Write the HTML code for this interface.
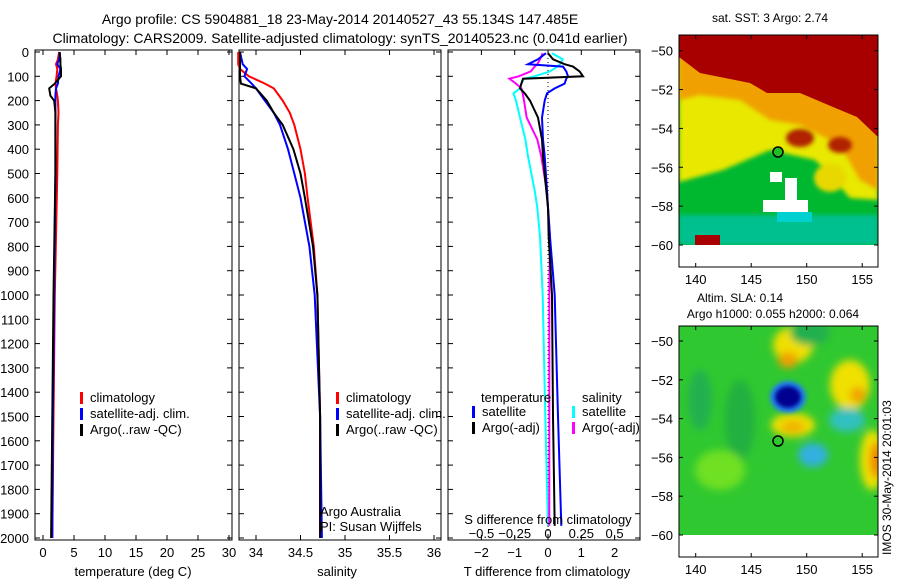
<!DOCTYPE html>
<html><head><meta charset="utf-8">
<style>
body{margin:0;background:#fff;}
svg{display:block;font-family:"Liberation Sans",sans-serif;}
text{font-size:13px;fill:#000;}
</style></head>
<body>
<svg id="fig" width="900" height="580" viewBox="0 0 900 580">
<defs>
<filter id="bl" x="-20%" y="-20%" width="140%" height="140%"><feGaussianBlur stdDeviation="4"/></filter>
<filter id="bl2" x="-20%" y="-20%" width="140%" height="140%"><feGaussianBlur stdDeviation="2"/></filter>
<clipPath id="c1"><rect x="679" y="35" width="199" height="210"/></clipPath>
<clipPath id="c2"><rect x="679" y="326" width="199" height="209"/></clipPath>
</defs>
<text x="340" y="24" text-anchor="middle" style="font-size:14px">Argo profile: CS 5904881_18 23-May-2014 20140527_43 55.134S 147.485E</text>
<text x="340" y="43" text-anchor="middle" style="font-size:14px">Climatology: CARS2009. Satellite-adjusted climatology: synTS_20140523.nc (0.041d earlier)</text>

<g>
<text x="770" y="22" text-anchor="middle" style="font-size:12px">sat. SST: 3 Argo: 2.74</text>
<g clip-path="url(#c1)">
<rect x="679" y="35" width="199" height="210" fill="#00b830"/>
<rect x="679" y="215" width="199" height="30" fill="#00c090" filter="url(#bl2)"/>
<polygon points="679,35 878,35 878,200 850,198 830,175 815,160 770,150 723,170 679,182" fill="#e8e800" filter="url(#bl2)"/>
<polygon points="679,35 878,35 878,190 860,180 840,145 800,125 770,120 740,100 700,95 679,100" fill="#f0a000" filter="url(#bl2)"/>
<polygon points="679,35 878,35 878,137 857,117 833,107 800,93 767,93 750,83 700,73 679,57" fill="#a80000"/>
<ellipse cx="800" cy="138" rx="14" ry="9" fill="#b02000" filter="url(#bl2)"/>
<ellipse cx="840" cy="145" rx="12" ry="8" fill="#b02000" filter="url(#bl2)"/>
<ellipse cx="830" cy="178" rx="16" ry="14" fill="#e8d800" filter="url(#bl2)"/>
<rect x="770" y="172" width="12" height="10" fill="#fff"/>
<rect x="785" y="178" width="12" height="22" fill="#fff"/>
<rect x="763" y="200" width="45" height="12" fill="#fff"/>
<rect x="777" y="212" width="35" height="10" fill="#00d0d0"/>
<rect x="695" y="235" width="25" height="10" fill="#a80000"/>
</g>
<rect x="679" y="35" width="199" height="232" fill="none" stroke="#000"/>
<circle cx="778" cy="152" r="5" fill="#20c020" stroke="#000" stroke-width="1.5"/>
<g id="map1ax"></g>
</g>

<g>
<text x="740" y="302" text-anchor="middle" style="font-size:12px">Altim. SLA: 0.14</text>
<text x="773" y="318" text-anchor="middle" style="font-size:12px">Argo h1000: 0.055 h2000: 0.064</text>
<g clip-path="url(#c2)">
<rect x="679" y="326" width="199" height="209" fill="#30c830"/>
<g filter="url(#bl)">
<ellipse cx="700" cy="400" rx="12" ry="30" fill="#20b050"/>
<ellipse cx="740" cy="420" rx="15" ry="40" fill="#20b040"/>
<ellipse cx="720" cy="470" rx="25" ry="20" fill="#70e020"/>
<ellipse cx="793" cy="345" rx="20" ry="18" fill="#f0e000"/>
<ellipse cx="788" cy="360" rx="10" ry="8" fill="#f0a000"/>
<ellipse cx="793" cy="425" rx="22" ry="12" fill="#f0e000"/>
<ellipse cx="793" cy="427" rx="12" ry="6" fill="#f0b000"/>
<ellipse cx="850" cy="385" rx="20" ry="25" fill="#f0e000"/>
<ellipse cx="858" cy="395" rx="8" ry="8" fill="#f0a000"/>
<ellipse cx="872" cy="460" rx="12" ry="30" fill="#f0e000"/>
<ellipse cx="876" cy="460" rx="6" ry="18" fill="#f08000"/>
<ellipse cx="847" cy="420" rx="18" ry="12" fill="#30c0c0"/>
<ellipse cx="813" cy="455" rx="15" ry="12" fill="#30b0e0"/>
<ellipse cx="810" cy="333" rx="20" ry="12" fill="#20b050"/>
</g>
<ellipse cx="788" cy="397" rx="18" ry="16" fill="#2080f0" filter="url(#bl2)"/>
<ellipse cx="788" cy="397" rx="13" ry="11" fill="#000090" filter="url(#bl2)"/>
</g>
<rect x="679" y="326" width="199" height="231" fill="none" stroke="#000"/>
<circle cx="778" cy="441" r="5" fill="#30c830" stroke="#000" stroke-width="1.5"/>
<text transform="translate(891,555) rotate(-90)" style="font-size:12px">IMOS 30-May-2014 20:01:03</text>
<g id="map2ax"></g>
</g>

<g id="plots"></g>
</svg>
<script>
const depthT = [0,30,50,70,100,130,150,180,200,250,300,500,1000,1500,2000];
const tempClim = [2.6,2.4,2.1,2.3,2.2,2.0,2.1,2.3,2.4,2.5,2.4,2.3,1.9,1.7,1.5];
const tempSat  = [2.7,2.6,2.3,2.8,2.5,2.4,2.1,2.0,2.0,2.0,2.0,2.0,1.8,1.6,1.5];
const tempArgo = [2.7,2.8,2.8,2.9,2.9,1.9,1.0,1.2,1.8,2.0,2.0,2.0,1.7,1.5,1.3];
const depthS = [0,50,70,100,130,150,200,250,300,400,500,600,800,1000,1500,2000];
const salClim = [33.8,33.8,33.82,33.92,34.1,34.2,34.3,34.38,34.43,34.5,34.55,34.58,34.65,34.69,34.72,34.72];
const salSat  = [33.82,33.85,33.9,33.87,33.95,34.0,34.1,34.2,34.27,34.36,34.43,34.5,34.6,34.66,34.72,34.74];
const salArgo = [33.82,33.82,33.82,33.82,33.83,34.0,34.12,34.2,34.3,34.42,34.5,34.55,34.64,34.69,34.72,34.72];
const depthD = [5,30,50,60,80,100,110,130,150,170,200,270,360,430,570,640,760,1000,1500,1950];
const dTsat  = [-0.06,-0.3,-0.6,0.45,0.55,0.6,0.55,0.5,0.2,-0.03,-0.1,-0.18,-0.15,-0.1,-0.03,0.0,0.06,0.2,0.3,0.4];
const dTargo = [0.0,0.15,0.5,0.75,0.95,1.05,-0.75,-0.8,-0.84,-0.7,-0.54,-0.3,-0.18,-0.15,-0.05,0.0,0.02,0.12,0.15,0.2];
const dSsat  = [0.03,0.11,0.09,0.07,0.015,-0.1,-0.18,-0.2,-0.21,-0.26,-0.24,-0.21,-0.17,-0.15,-0.1,-0.08,-0.06,-0.04,-0.02,0.0];
const dSargo = [-0.04,-0.06,-0.08,-0.1,-0.13,-0.22,-0.29,-0.24,-0.2,-0.19,-0.18,-0.16,-0.08,-0.05,-0.01,0.0,0.015,0.01,0.01,0.01];
const depthTicks = [0,100,200,300,400,500,600,700,800,900,1000,1100,1200,1300,1400,1500,1600,1700,1800,1900,2000];
const tempTicks = [0,5,10,15,20,25,30];
const salTicks = ["34","34.5","35","35.5","36"];
const dTTicks = [-2,-1,0,1,2];
const dSTicks = ["-0.5","-0.25","0","0.25","0.5"];
const lonTicks = [140,145,150,155];
const latTicks = [-50,-52,-54,-56,-58,-60];

const NS="http://www.w3.org/2000/svg";
const P=document.getElementById('plots');
function mk(tag,attrs,parent){const e=document.createElementNS(NS,tag);for(const k in attrs)e.setAttribute(k,attrs[k]);(parent||P).appendChild(e);return e;}
function txt(x,y,s,anchor,parent){const t=mk('text',{x:x,y:y,'text-anchor':anchor||'middle'},parent);t.textContent=s;return t;}
const yD=d=>52+d*0.243;
const yTop=50,yBot=540;
const xT=v=>43+v*6.2;
const xS=v=>256+(v-34)*89;
const xDT=v=>548+v*33.3;
const xDS=v=>548+v*133.2;

function panel(x0,x1,name){
  const r=mk('rect',{x:x0,y:yTop,width:x1-x0,height:yBot-yTop,fill:'none',stroke:'#000'});
  
  
  depthTicks.forEach(d=>{mk('line',{x1:x0,x2:x0+5,y1:yD(d),y2:yD(d),stroke:'#000'});mk('line',{x1:x1,x2:x1-5,y1:yD(d),y2:yD(d),stroke:'#000'});});
}
function line(xs,ds,xf,color,name){
  const pts=xs.map((v,i)=>xf(v).toFixed(1)+','+yD(ds[i]).toFixed(1)).join(' ');
  const l=mk('polyline',{points:pts,fill:'none',stroke:color,'stroke-width':2});
  
  
}
panel(35,232,'temperature-panel');
depthTicks.forEach(d=>{const t=txt(29,yD(d)+5,String(d),'end');});
tempTicks.forEach(v=>{mk('line',{x1:xT(v),x2:xT(v),y1:yBot,y2:yBot-5,stroke:'#000'});mk('line',{x1:xT(v),x2:xT(v),y1:yTop,y2:yTop+5,stroke:'#000'});const t=txt(xT(v),557,String(v));});
txt(133,576,'temperature (deg C)');
line(tempClim,depthT,xT,'#f00','temp-climatology-line');
line(tempSat,depthT,xT,'#00f','temp-satellite-line');
line(tempArgo,depthT,xT,'#000','temp-argo-line');
function legend(x,y,items){items.forEach((it,i)=>{mk('rect',{x:x,y:y+i*16-10,width:3,height:12,fill:it[1]});const t=txt(x+10,y+i*16,it[0],'start');});}
legend(80,402,[['climatology','#f00'],['satellite-adj. clim.','#00f'],['Argo(..raw -QC)','#000']]);
panel(239,441,'salinity-panel');
salTicks.forEach(v=>{const x=xS(+v);mk('line',{x1:x,x2:x,y1:yBot,y2:yBot-5,stroke:'#000'});mk('line',{x1:x,x2:x,y1:yTop,y2:yTop+5,stroke:'#000'});const t=txt(x,557,v);});
txt(337,576,'salinity');
line(salClim,depthS,xS,'#f00','sal-climatology-line');
line(salSat,depthS,xS,'#00f','sal-satellite-line');
line(salArgo,depthS,xS,'#000','sal-argo-line');
legend(336,402,[['climatology','#f00'],['satellite-adj. clim.','#00f'],['Argo(..raw -QC)','#000']]);
txt(320,516,'Argo Australia','start');
txt(320,531,'PI: Susan Wijffels','start');
panel(448,640,'difference-panel');
mk('line',{x1:548,x2:548,y1:yTop,y2:yBot,stroke:'#000','stroke-dasharray':'1,3'});
dTTicks.forEach(v=>{const x=xDT(v);mk('line',{x1:x,x2:x,y1:yBot,y2:yBot-5,stroke:'#000'});mk('line',{x1:x,x2:x,y1:yTop,y2:yTop+5,stroke:'#000'});const t=txt(x,557,String(v).replace('-','\u2212'));});
dSTicks.forEach(v=>{const t=txt(xDS(+v),538,v.replace('-','\u2212'));});
line(dSsat,depthD,xDS,'#0ff','s-diff-satellite-line');
line(dSargo,depthD,xDS,'#f0f','s-diff-argo-line');
line(dTsat,depthD,xDT,'#00f','t-diff-satellite-line');
line(dTargo,depthD,xDT,'#000','t-diff-argo-line');
txt(548,524,'S difference from climatology');
txt(547,576,'T difference from climatology');
txt(481,402,'temperature','start');
txt(582,402,'salinity','start');
legend(472,416,[['satellite','#00f'],['Argo(-adj)','#000']]);
legend(572,416,[['satellite','#0ff'],['Argo(-adj)','#f0f']]);
function mapAxes(gid,y0,y1,latY){
  const g=document.getElementById(gid);
  lonTicks.forEach(v=>{const x=695.7+(v-140)*11.1;mk('line',{x1:x,x2:x,y1:y1,y2:y1-4,stroke:'#000'},g);mk('line',{x1:x,x2:x,y1:y0,y2:y0+4,stroke:'#000'},g);const t=txt(x,y1+17,String(v),'middle',g);});
  latTicks.forEach(v=>{const y=latY(v);mk('line',{x1:679,x2:683,y1:y,y2:y,stroke:'#000'},g);mk('line',{x1:878,x2:874,y1:y,y2:y,stroke:'#000'},g);const t=txt(673,y+5,String(v).replace('-','\u2212'),'end',g);});
}
mapAxes('map1ax',35,267,v=>50.7+(-50-v)*19.43);
mapAxes('map2ax',326,557,v=>341+(-50-v)*19.4);
</script>
</body></html>
